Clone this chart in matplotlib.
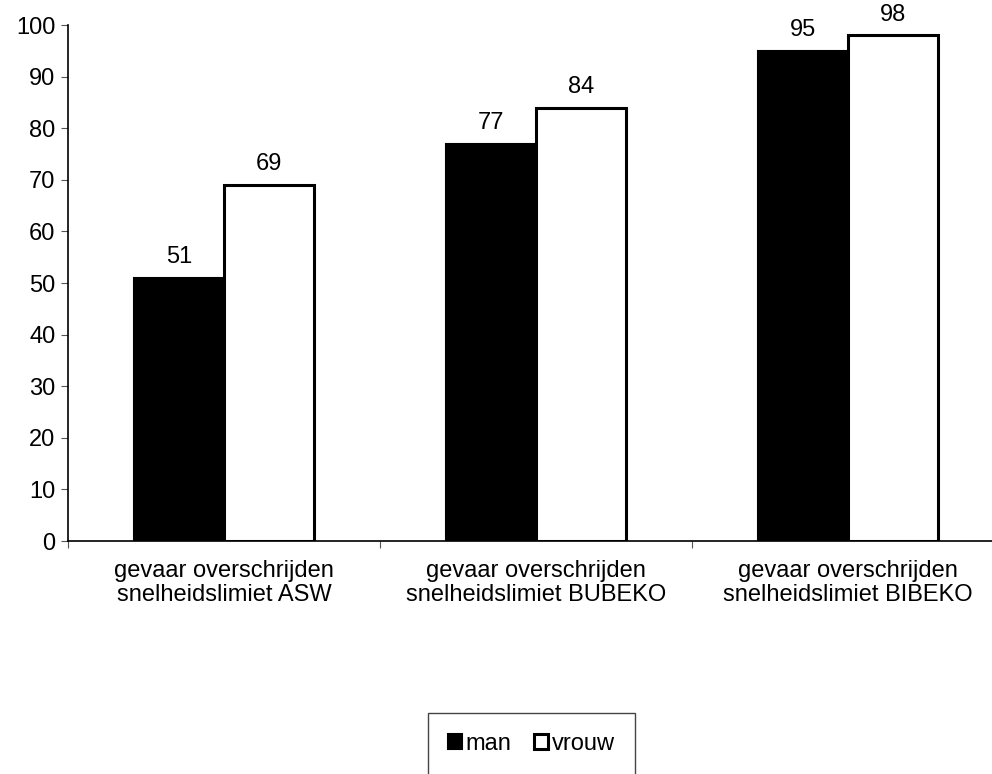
import numpy as np
import matplotlib.pyplot as plt
from matplotlib.patches import Patch

plt.rcParams['font.family'] = ['Liberation Sans', 'DejaVu Sans']

categories = ['gevaar overschrijden\nsnelheidslimiet ASW',
              'gevaar overschrijden\nsnelheidslimiet BUBEKO',
              'gevaar overschrijden\nsnelheidslimiet BIBEKO']
man = [51, 77, 95]
vrouw = [69, 84, 98]
yticks = list(range(0, 101, 10))

fs = 17

fig = plt.figure(figsize=(9.92, 7.74), dpi=100)
ax = fig.add_axes([68 / 992, 233 / 774, 936 / 992, 516 / 774])

x = np.arange(len(categories))
w = 0.288
b1 = ax.bar(x - w / 2, man, w, color='black', edgecolor='black', linewidth=1.5)
b2 = ax.bar(x + w / 2, vrouw, w, color='white', edgecolor='black', linewidth=2.2)

for bars in (b1, b2):
    for r in bars:
        ax.annotate('%d' % r.get_height(), (r.get_x() + r.get_width() / 2, r.get_height()),
                    xytext=(0, 7), textcoords='offset points', ha='center', va='bottom',
                    fontsize=fs)

ax.set_xlim(-0.5, 2.5)
ax.set_ylim(0, 100)
ax.set_yticks(yticks)
ax.tick_params(axis='y', labelsize=fs, length=5, width=0.8, color='#555555', pad=4)
ax.set_xticks(x)
ax.set_xticklabels(categories, fontsize=fs, linespacing=1.1)
ax.tick_params(axis='x', length=0, pad=14)
ax.set_xticks([-0.5, 0.5, 1.5, 2.5], minor=True)
ax.tick_params(axis='x', which='minor', length=5, width=0.8, color='#555555')
for s in ['top', 'right']:
    ax.spines[s].set_visible(False)
for s in ['left', 'bottom']:
    ax.spines[s].set_linewidth(1.2)

handles = [Patch(facecolor='black', edgecolor='black', linewidth=1.5),
           Patch(facecolor='white', edgecolor='black', linewidth=2.2)]
fig.legend(handles, ['man', 'vrouw'], loc='upper left',
           bbox_to_anchor=(428 / 992, 1 - 713 / 774), ncol=2, fontsize=fs,
           frameon=True, fancybox=False, edgecolor='#444444', framealpha=1,
           handlelength=0.6, handleheight=0.6, handletextpad=0.15,
           columnspacing=0.95, borderpad=0.85, borderaxespad=0)

fig.savefig('out.png', dpi=100)
